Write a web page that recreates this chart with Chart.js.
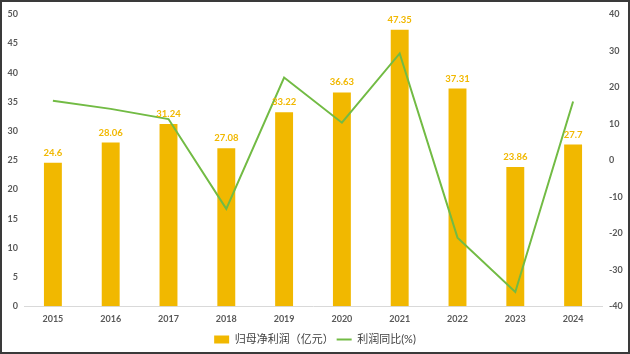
<!DOCTYPE html>
<html>
<head>
<meta charset="utf-8">
<script src="https://cdn.jsdelivr.net/npm/chart.js@4/dist/chart.umd.min.js"></script>
<style>
    html, body { margin: 0; padding: 0; background: #fff; }
    #wrap { position: absolute; left: 0; top: 0; width: 626px; height: 350px; border: 2px solid #3a3a3a; }
</style>
</head>
<body>
<div id="wrap"><canvas id="chart" width="626" height="350"></canvas></div>
<script>
const years = ['2015', '2016', '2017', '2018', '2019', '2020', '2021', '2022', '2023', '2024'];
const netProfit = [24.6, 28.06, 31.24, 27.08, 33.22, 36.63, 47.35, 37.31, 23.86, 27.7];
const profitYoY = [16.3, 14.1, 11.3, -13.3, 22.7, 10.3, 29.3, -21.2, -36.1, 16.1];
const leftTicks = [0, 5, 10, 15, 20, 25, 30, 35, 40, 45, 50];
const rightTicks = [-40, -30, -20, -10, 0, 10, 20, 30, 40];

const barColor = '#F1B800';
const lineColor = '#72BB44';
const tickColor = '#595959';
const fontFamily = "Lato, 'Noto Sans CJK SC', sans-serif";

// labels above the bars
const barLabels = {
    id: 'barLabels',
    afterDatasetsDraw(chart) {
        const ctx = chart.ctx;
        const meta = chart.getDatasetMeta(0);
        ctx.save();
        ctx.font = 'bold 9.5px ' + fontFamily;
        ctx.fillStyle = barColor;
        ctx.textAlign = 'center';
        ctx.textBaseline = 'middle';
        meta.data.forEach(function (bar, i) {
            ctx.fillText(String(netProfit[i]), bar.x, bar.y - 10);
        });
        ctx.restore();
    }
};

const ctx = document.getElementById('chart').getContext('2d');
const chart = new Chart(ctx, {
    type: 'bar',
    data: {
        labels: years,
        datasets: [{
            type: 'bar',
            label: '归母净利润（亿元）',
            data: netProfit,
            backgroundColor: barColor,
            borderWidth: 0,
            categoryPercentage: 1,
            barPercentage: 0.31,
            yAxisID: 'y',
            order: 1,
            pointStyle: 'rect'
        }, {
            type: 'line',
            label: '利润同比(%)',
            data: profitYoY,
            borderColor: lineColor,
            backgroundColor: lineColor,
            borderWidth: 2,
            pointRadius: 0,
            tension: 0,
            yAxisID: 'y1',
            order: 0,
            pointStyle: 'line'
        }]
    },
    options: {
        responsive: false,
        animation: false,
        layout: { padding: { top: 9, left: 0, right: 0, bottom: -3 } },
        plugins: {
            tooltip: { enabled: false },
            legend: {
                position: 'bottom',
                labels: {
                    usePointStyle: true,
                    pointStyleWidth: 15,
                    boxHeight: 8,
                    padding: 3,
                    color: '#404040',
                    font: { size: 11, family: fontFamily },
                    sort: function (a, b) { return a.datasetIndex - b.datasetIndex; }
                }
            }
        },
        scales: {
            x: {
                grid: { display: false, drawTicks: false },
                border: { display: true, color: '#D9D9D9', width: 1 },
                ticks: { color: tickColor, font: { size: 9, weight: 'bold', family: fontFamily }, padding: 7 }
            },
            y: {
                position: 'left',
                min: 0,
                max: 50,
                afterBuildTicks: function (axis) { axis.ticks = leftTicks.map(v => ({ value: v })); },
                afterFit: function (axis) { axis.width = 22; },
                grid: { display: false, drawTicks: false },
                border: { display: false },
                ticks: { color: tickColor, font: { size: 9, weight: 'bold', family: fontFamily }, padding: 6 }
            },
            y1: {
                position: 'right',
                min: -40,
                max: 40,
                afterBuildTicks: function (axis) { axis.ticks = rightTicks.map(v => ({ value: v })); },
                afterFit: function (axis) { axis.width = 26; },
                grid: { display: false, drawTicks: false },
                border: { display: false },
                ticks: { color: tickColor, font: { size: 9, weight: 'bold', family: fontFamily }, padding: 7 }
            }
        }
    },
    plugins: [barLabels]
});
</script>
</body>
</html>
